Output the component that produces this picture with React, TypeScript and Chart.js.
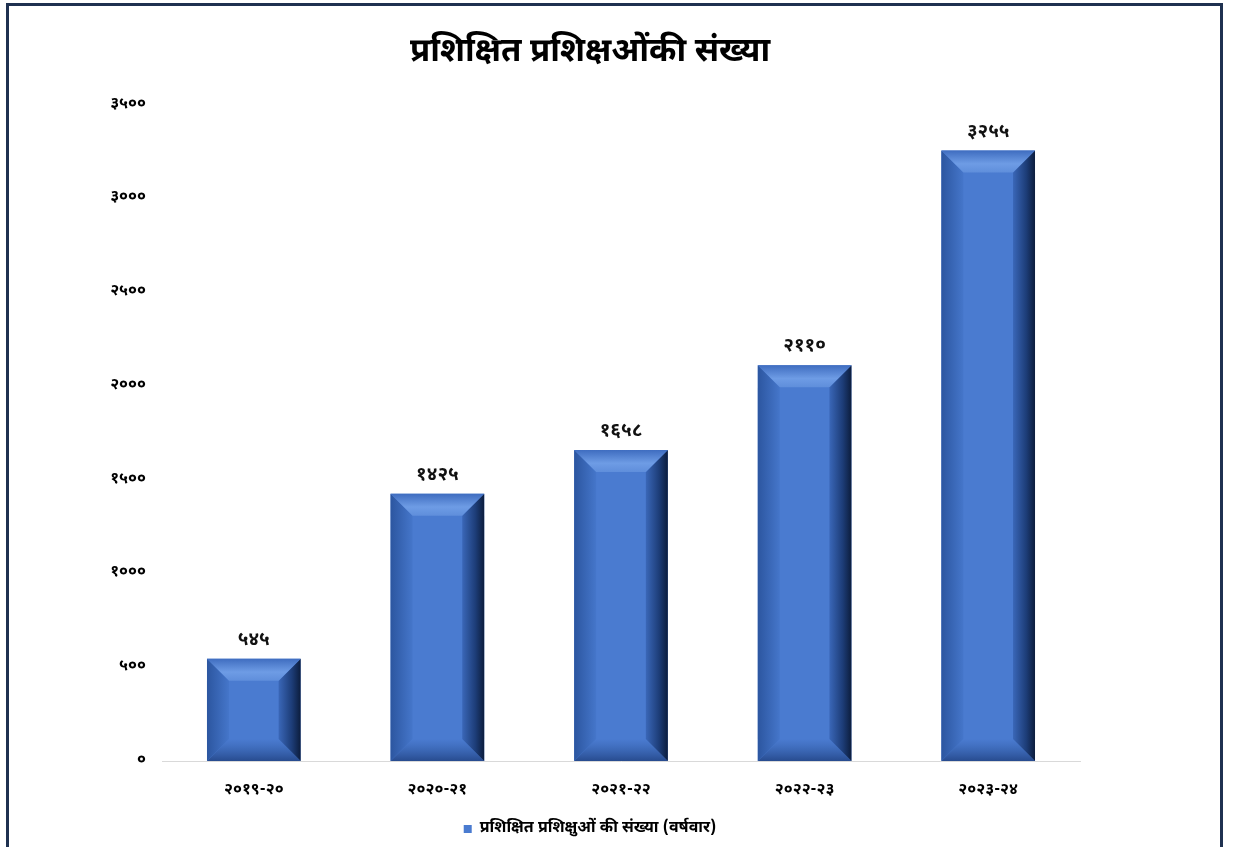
import React, { useEffect, useRef } from 'react';
import { Chart, registerables } from 'chart.js';

Chart.register(...registerables);

const categories = ['२०१९-२०', '२०२०-२१', '२०२१-२२', '२०२२-२३', '२०२३-२४'];
const values = [545, 1425, 1658, 2110, 3255];
const yMax = 3500;
const yStep = 500;
const titleText = 'प्रशिक्षित प्रशिक्षओंकी संख्या';
const legendText = 'प्रशिक्षित प्रशिक्षुओं की संख्या (वर्षवार)';

const FONT = '"Noto Sans Devanagari", "Noto Sans", "Lohit Devanagari", "FreeSans", sans-serif';
const DIGITS = '०१२३४५६७८९';
const toDev = (v: number | string) => String(v).replace(/[0-9]/g, (d) => DIGITS[+d]);

const FACE = '#4a7bd0';

const bevelPlugin = {
  id: 'bevel',
  afterDatasetsDraw(chart: any) {
    const ctx: CanvasRenderingContext2D = chart.ctx;
    const meta = chart.getDatasetMeta(0);
    meta.data.forEach((bar: any, i: number) => {
      const { x, y, base, width } = bar.getProps(['x', 'y', 'base', 'width'], true);
      const l = x - width / 2;
      const r = x + width / 2;
      const t = y;
      const b = base;
      const bv = Math.min(22, (b - t) / 3);
      ctx.save();
      // bottom bevel
      let g = ctx.createLinearGradient(0, b - bv, 0, b);
      g.addColorStop(0, 'rgba(40,80,150,0)');
      g.addColorStop(1, 'rgba(25,55,115,0.7)');
      ctx.fillStyle = g;
      ctx.beginPath();
      ctx.moveTo(l, b);
      ctx.lineTo(r, b);
      ctx.lineTo(r - bv, b - bv);
      ctx.lineTo(l + bv, b - bv);
      ctx.closePath();
      ctx.fill();
      // left bevel
      g = ctx.createLinearGradient(l, 0, l + bv, 0);
      g.addColorStop(0, '#2c56a0');
      g.addColorStop(1, '#4576ca');
      ctx.fillStyle = g;
      ctx.beginPath();
      ctx.moveTo(l, t);
      ctx.lineTo(l + bv, t + bv);
      ctx.lineTo(l + bv, b - bv);
      ctx.lineTo(l, b);
      ctx.closePath();
      ctx.fill();
      // right bevel
      g = ctx.createLinearGradient(r - bv, 0, r, 0);
      g.addColorStop(0, '#3a67b8');
      g.addColorStop(0.6, '#1d3d78');
      g.addColorStop(1, '#0c1d3d');
      ctx.fillStyle = g;
      ctx.beginPath();
      ctx.moveTo(r, t);
      ctx.lineTo(r, b);
      ctx.lineTo(r - bv, b - bv);
      ctx.lineTo(r - bv, t + bv);
      ctx.closePath();
      ctx.fill();
      // top bevel
      g = ctx.createLinearGradient(0, t, 0, t + bv);
      g.addColorStop(0, '#3f6dc0');
      g.addColorStop(0.6, '#6e9ce5');
      g.addColorStop(1, '#5f8edb');
      ctx.fillStyle = g;
      ctx.beginPath();
      ctx.moveTo(l, t);
      ctx.lineTo(r, t);
      ctx.lineTo(r - bv, t + bv);
      ctx.lineTo(l + bv, t + bv);
      ctx.closePath();
      ctx.fill();
      // value label
      ctx.fillStyle = '#111111';
      ctx.font = `bold 19px ${FONT}`;
      ctx.textAlign = 'center';
      ctx.textBaseline = 'bottom';
      ctx.fillText(toDev(values[i]), x, t - 8);
      ctx.restore();
    });
  },
};

export default function App() {
  const ref = useRef<HTMLCanvasElement | null>(null);

  useEffect(() => {
    if (!ref.current) return;
    const chart = new Chart(ref.current, {
      type: 'bar',
      data: {
        labels: categories,
        datasets: [
          {
            label: legendText,
            data: values,
            backgroundColor: FACE,
            borderWidth: 0,
            barPercentage: 0.51,
            categoryPercentage: 1,
          },
        ],
      },
      options: {
        animation: false,
        responsive: false,
        maintainAspectRatio: false,
        layout: { padding: { left: 100, right: 155, top: 0, bottom: 0 } },
        plugins: {
          title: {
            display: true,
            text: titleText,
            color: '#000',
            font: { family: FONT, size: 33, weight: 'bold' },
            padding: { top: 35, bottom: 30 },
          },
          legend: {
            display: true,
            position: 'bottom',
            labels: {
              color: '#000',
              font: { family: FONT, size: 16, weight: 'bold' },
              boxWidth: 8,
              boxHeight: 8,
              padding: 6,
            },
          },
          tooltip: { enabled: false },
        },
        scales: {
          x: {
            grid: { display: false },
            border: { display: true, color: '#d9d9d9', width: 1 },
            ticks: {
              color: '#000',
              font: { family: FONT, size: 16, weight: 'bold' },
              padding: 12,
            },
            afterFit: (s: any) => {
              s.height = 54;
            },
          },
          y: {
            min: 0,
            max: yMax,
            ticks: {
              stepSize: yStep,
              color: '#000',
              font: { family: FONT, size: 16, weight: 'bold' },
              padding: 8,
              callback: (v: any) => toDev(v),
            },
            grid: { display: false },
            border: { display: false },
            afterFit: (s: any) => {
              s.width = 62;
            },
          },
        },
      },
      plugins: [bevelPlugin],
    });
    return () => chart.destroy();
  }, []);

  return (
    <div style={{ position: 'fixed', left: 0, top: 0, width: 1235, height: 847, background: '#fff' }}>
      <div
        style={{
          position: 'absolute',
          left: 6,
          top: 3,
          width: 1217,
          height: 844,
          borderLeft: '3px solid #1f3150',
          borderTop: '3px solid #1f3150',
          borderRight: '3px solid #1f3150',
          boxSizing: 'border-box',
        }}
      />
      <canvas ref={ref} width={1235} height={847} style={{ position: 'absolute', left: 0, top: 0 }} />
    </div>
  );
}
